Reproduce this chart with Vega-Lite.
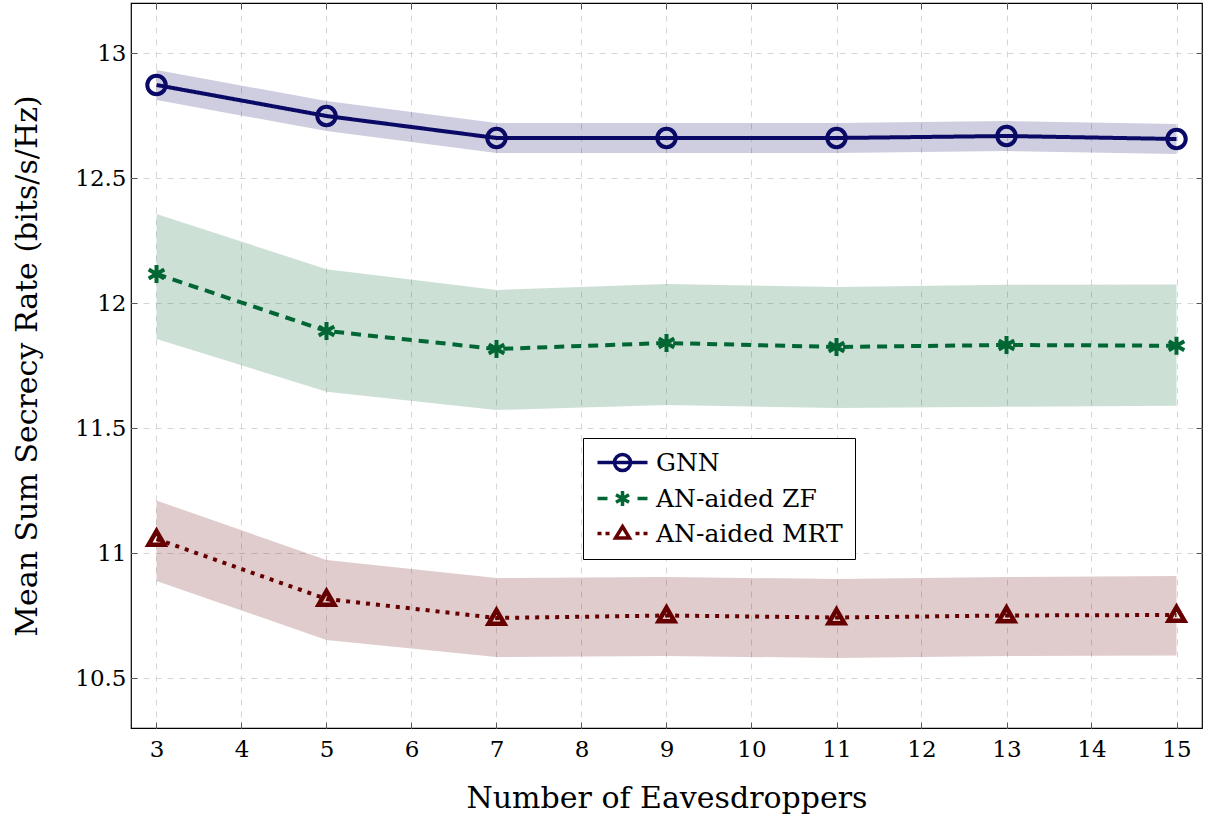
{
  "$schema": "https://vega.github.io/schema/vega-lite/v6.json",
  "width": 1071,
  "height": 725,
  "autosize": "none",
  "padding": {"left": 131, "top": 3, "right": 5, "bottom": 86},
  "background": "white",
  "config": {
    "view": {"stroke": "black", "strokeWidth": 1.2},
    "font": "DejaVu Serif",
    "axis": {
      "labelFont": "DejaVu Serif",
      "titleFont": "DejaVu Serif",
      "labelFontSize": 23,
      "titleFontSize": 30,
      "titleFontWeight": "normal",
      "labelColor": "black",
      "titleColor": "black",
      "domain": false,
      "tickColor": "#555555",
      "tickSize": -6,
      "gridColor": "#d6d6d6",
      "gridDash": [6, 6],
      "gridWidth": 1
    },
    "legend": {
      "labelFont": "DejaVu Serif",
      "labelFontSize": 25,
      "labelColor": "black",
      "labelLimit": 0
    }
  },
  "data": {
    "values": [
      {"x": 3, "method": "GNN", "mean": 12.872, "lo": 12.812, "hi": 12.932},
      {"x": 5, "method": "GNN", "mean": 12.748, "lo": 12.688, "hi": 12.808},
      {"x": 7, "method": "GNN", "mean": 12.66, "lo": 12.6, "hi": 12.72},
      {"x": 9, "method": "GNN", "mean": 12.66, "lo": 12.6, "hi": 12.72},
      {"x": 11, "method": "GNN", "mean": 12.66, "lo": 12.6, "hi": 12.72},
      {"x": 13, "method": "GNN", "mean": 12.668, "lo": 12.608, "hi": 12.728},
      {"x": 15, "method": "GNN", "mean": 12.656, "lo": 12.596, "hi": 12.716},
      {"x": 3, "method": "AN-aided ZF", "mean": 12.116, "lo": 11.856, "hi": 12.356},
      {"x": 5, "method": "AN-aided ZF", "mean": 11.888, "lo": 11.645, "hi": 12.135},
      {"x": 7, "method": "AN-aided ZF", "mean": 11.816, "lo": 11.572, "hi": 12.052},
      {"x": 9, "method": "AN-aided ZF", "mean": 11.84, "lo": 11.592, "hi": 12.076},
      {"x": 11, "method": "AN-aided ZF", "mean": 11.824, "lo": 11.58, "hi": 12.064},
      {"x": 13, "method": "AN-aided ZF", "mean": 11.832, "lo": 11.585, "hi": 12.073},
      {"x": 15, "method": "AN-aided ZF", "mean": 11.829, "lo": 11.589, "hi": 12.074},
      {"x": 3, "method": "AN-aided MRT", "mean": 11.056, "lo": 10.888, "hi": 11.21},
      {"x": 5, "method": "AN-aided MRT", "mean": 10.816, "lo": 10.652, "hi": 10.972},
      {"x": 7, "method": "AN-aided MRT", "mean": 10.74, "lo": 10.584, "hi": 10.9},
      {"x": 9, "method": "AN-aided MRT", "mean": 10.75, "lo": 10.588, "hi": 10.904},
      {"x": 11, "method": "AN-aided MRT", "mean": 10.742, "lo": 10.58, "hi": 10.896},
      {"x": 13, "method": "AN-aided MRT", "mean": 10.75, "lo": 10.588, "hi": 10.904},
      {"x": 15, "method": "AN-aided MRT", "mean": 10.752, "lo": 10.59, "hi": 10.908}
    ]
  },
  "resolve": {"axis": {"x": "independent", "y": "independent"}},
  "layer": [
    {
      "mark": {"type": "area", "opacity": 0.2},
      "encoding": {
        "x": {
          "field": "x", "type": "quantitative",
          "scale": {"domain": [2.7, 15.3], "nice": false, "zero": false},
          "axis": {"values": [3,4,5,6,7,8,9,10,11,12,13,14,15], "title": "Number of Eavesdroppers", "labelPadding": 16, "titlePadding": 22, "grid": true}
        },
        "y": {
          "field": "lo", "type": "quantitative",
          "scale": {"domain": [10.3, 13.2], "nice": false, "zero": false},
          "axis": {"values": [10.5, 11, 11.5, 12, 12.5, 13], "format": "~g", "title": "Mean Sum Secrecy Rate (bits/s/Hz)", "labelPadding": 11, "titlePadding": 32, "grid": true}
        },
        "y2": {"field": "hi"},
        "color": {
          "field": "method", "type": "nominal",
          "scale": {"range": ["#660000", "#006633", "#0a0a66"]},
          "legend": null
        }
      }
    },
    {
      "mark": {"type": "line", "strokeWidth": 4},
      "encoding": {
        "x": {"field": "x", "type": "quantitative", "axis": null},
        "y": {"field": "mean", "type": "quantitative", "axis": null},
        "color": {"field": "method", "type": "nominal", "legend": null},
        "strokeDash": {
          "field": "method", "type": "nominal",
          "scale": {"range": [[4, 6], [10, 7], [1, 0]]},
          "legend": null
        }
      }
    },
    {
      "transform": [{"filter": "datum.method === 'GNN'"}],
      "mark": {"type": "point", "shape": "circle", "filled": false, "strokeWidth": 4, "size": 340, "opacity": 1},
      "encoding": {
        "x": {"field": "x", "type": "quantitative", "axis": null},
        "y": {"field": "mean", "type": "quantitative", "axis": null},
        "color": {"field": "method", "type": "nominal", "legend": null}
      }
    },
    {
      "transform": [{"filter": "datum.method === 'AN-aided ZF'"}],
      "mark": {"type": "point", "shape": "M0,-1V1M-0.87,-0.5L0.87,0.5M-0.87,0.5L0.87,-0.5", "filled": false, "strokeWidth": 4, "size": 320, "opacity": 1},
      "encoding": {
        "x": {"field": "x", "type": "quantitative", "axis": null},
        "y": {"field": "mean", "type": "quantitative", "axis": null},
        "color": {"field": "method", "type": "nominal", "legend": null}
      }
    },
    {
      "transform": [{"filter": "datum.method === 'AN-aided MRT'"}],
      "mark": {"type": "point", "shape": "M0,-0.95L0.95,0.7L-0.95,0.7Z", "filled": false, "strokeWidth": 4.5, "size": 280, "opacity": 1},
      "encoding": {
        "x": {"field": "x", "type": "quantitative", "axis": null},
        "y": {"field": "mean", "type": "quantitative", "axis": null},
        "color": {"field": "method", "type": "nominal", "legend": null}
      }
    },
    {
      "mark": {"type": "point", "filled": false, "opacity": 0, "size": 400, "strokeWidth": 3.5},
      "encoding": {
        "x": {"field": "x", "type": "quantitative", "axis": {"orient": "top", "values": [3,4,5,6,7,8,9,10,11,12,13,14,15], "labels": false, "title": null, "grid": false}},
        "y": {"field": "mean", "type": "quantitative", "axis": {"orient": "right", "values": [10.5, 11, 11.5, 12, 12.5, 13], "labels": false, "title": null, "grid": false}},
        "stroke": {
          "field": "method", "type": "nominal",
          "scale": {"domain": ["GNN", "AN-aided ZF", "AN-aided MRT"], "range": ["#0a0a66", "#006633", "#660000"]},
          "legend": {
            "title": null, "orient": "none", "legendX": 452, "legendY": 435,
            "padding": 12, "strokeColor": "black", "fillColor": "white", "cornerRadius": 0,
            "symbolOpacity": 1, "symbolStrokeWidth": 3.5, "symbolSize": 400, "symbolFillColor": "transparent",
            "labelOffset": 36, "rowPadding": 6, "labelFontSize": 25, "labelLimit": 0
          }
        },
        "shape": {
          "field": "method", "type": "nominal",
          "scale": {"domain": ["GNN", "AN-aided ZF", "AN-aided MRT"], "range": [
            "M-1,0H4M2.3,0A0.8,0.8 0 1 1 0.7,0A0.8,0.8 0 1 1 2.3,0",
            "M-1,0H0M3,0H4M1.5,-0.75V0.75M0.85,-0.38L2.15,0.38M0.85,0.38L2.15,-0.38",
            "M-1,0H-0.6M-0.2,0H0.2M2.8,0H3.2M3.6,0H4M1.5,-0.7L2.2,0.45L0.8,0.45Z"
          ]},
          "legend": {
            "title": null, "orient": "none", "legendX": 452, "legendY": 435,
            "padding": 12, "strokeColor": "black", "fillColor": "white", "cornerRadius": 0,
            "symbolOpacity": 1, "symbolStrokeWidth": 3.5, "symbolSize": 400, "symbolFillColor": "transparent",
            "labelOffset": 36, "rowPadding": 6, "labelFontSize": 25, "labelLimit": 0
          }
        }
      }
    }
  ]
}
